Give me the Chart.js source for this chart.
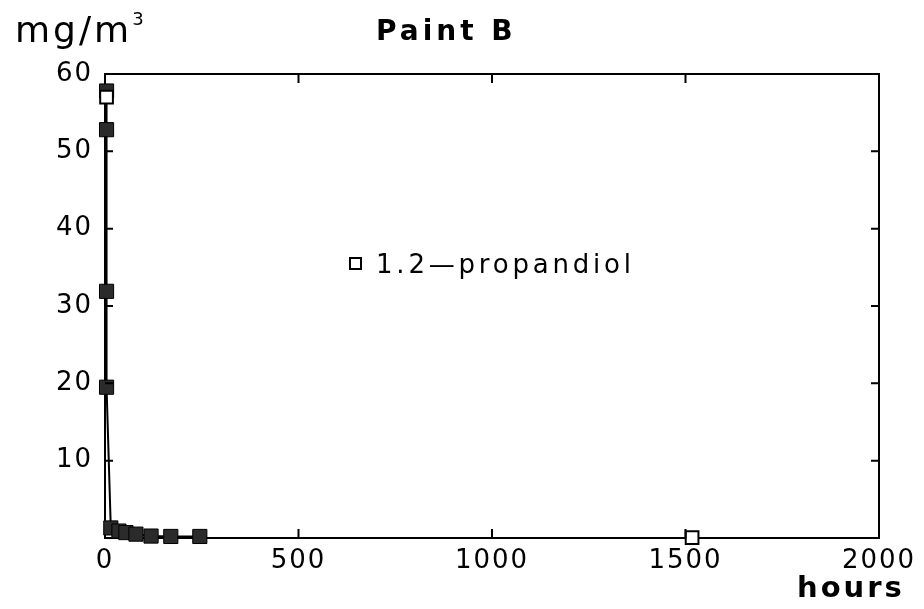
<!DOCTYPE html>
<html>
<head>
<meta charset="utf-8">
<title>Paint B</title>
<script src="https://cdn.jsdelivr.net/npm/chart.js@4.4.1/dist/chart.umd.min.js"></script>
<style>
  body { margin: 0; background: #fff; }
  #wrap { position: relative; width: 924px; height: 609px; }
  .lbl { position: absolute; font-family: "DejaVu Sans", sans-serif; color: #000; white-space: nowrap; }
  #ylab { left: 15px; top: 9px; font-size: 36px; letter-spacing: 3px; }
  #ylab sup { font-size: 18px; letter-spacing: 0; position: relative; top: -4px; }
  #title { left: 376px; top: 14px; font-size: 28px; font-weight: bold; letter-spacing: 4px; }
  #xlab { left: 797px; top: 570px; font-size: 29px; font-weight: bold; letter-spacing: 3px; }
  #legend { left: 349px; top: 249px; font-size: 26px; letter-spacing: 3.8px; }
  #legend .box { display: inline-block; width: 9px; height: 9px; border: 2px solid #000; margin-right: 14px; vertical-align: 3px; }
</style>
</head>
<body>
<div id="wrap">
  <canvas id="chart" width="924" height="609"></canvas>
  <div class="lbl" id="ylab">mg/m<sup>3</sup></div>
  <div class="lbl" id="title">Paint B</div>
  <div class="lbl" id="xlab">hours</div>
  <div class="lbl" id="legend"><span class="box"></span>1.2—propandiol</div>
</div>
<script>
// data (hours, mg/m3)
const seriesName = '1.2-propandiol';
const fillHours = [4, 4, 4, 4, 15, 36, 54, 80, 119, 170, 245];
const fillValues = [57.8, 52.8, 31.9, 19.5, 1.3, 0.9, 0.7, 0.5, 0.25, 0.2, 0.2];
const openHours = [4, 1517];
const openValues = [57.0, 0.05];
const xTicks = [0, 500, 1000, 1500, 2000];
const yTicks = [10, 20, 30, 40, 50, 60];

const toPoints = (xs, ys) => xs.map((x, i) => ({ x: x, y: ys[i] }));

// frame with inward tick marks, like the original plot
const framePlugin = {
    id: 'frame',
    beforeDraw(chart) {
        chart.ctx.letterSpacing = '2px';
    },
    beforeDatasetsDraw(chart) {
        const ctx = chart.ctx;
        const a = chart.chartArea;
        ctx.save();
        ctx.strokeStyle = '#000';
        ctx.lineWidth = 2;
        ctx.strokeRect(a.left, a.top, a.right - a.left, a.bottom - a.top);
        ctx.restore();
    },
    afterDatasetsDraw(chart) {
        const ctx = chart.ctx;
        const a = chart.chartArea;
        const xs = chart.scales.x, ys = chart.scales.y;
        ctx.save();
        ctx.strokeStyle = '#000';
        ctx.lineWidth = 2;
        ctx.beginPath();
        xTicks.slice(1, -1).forEach(v => {
            const px = xs.getPixelForValue(v);
            ctx.moveTo(px, a.bottom); ctx.lineTo(px, a.bottom - 9);
            ctx.moveTo(px, a.top); ctx.lineTo(px, a.top + 9);
        });
        yTicks.slice(0, -1).forEach(v => {
            const py = ys.getPixelForValue(v);
            ctx.moveTo(a.left, py); ctx.lineTo(a.left + 8, py);
            ctx.moveTo(a.right, py); ctx.lineTo(a.right - 8, py);
        });
        ctx.stroke();
        ctx.restore();
    }
};

new Chart(document.getElementById('chart'), {
    type: 'scatter',
    data: {
        datasets: [{
            label: seriesName,
            data: toPoints(openHours, openValues),
            showLine: false,
            clip: false,
            pointStyle: 'rect',
            pointRadius: 9,
            pointBackgroundColor: '#fff',
            pointBorderColor: '#000',
            pointBorderWidth: 2,
            order: 0
        }, {
            label: 'measured',
            data: toPoints(fillHours, fillValues),
            showLine: true,
            clip: false,
            borderColor: '#000',
            borderWidth: 2,
            pointStyle: 'rect',
            pointRadius: 10,
            pointBackgroundColor: '#2b2b2b',
            pointBorderColor: '#000',
            pointBorderWidth: 1,
            order: 1
        }]
    },
    options: {
        responsive: false,
        animation: false,
        layout: { padding: { top: 74, right: 45, left: 0, bottom: 0 } },
        plugins: { legend: { display: false }, tooltip: { enabled: false } },
        scales: {
            x: {
                type: 'linear',
                min: 0, max: 2000,
                afterFit(scale) { scale.height = 71; },
                afterBuildTicks(scale) { scale.ticks = xTicks.map(v => ({ value: v })); },
                grid: { display: false, drawTicks: false },
                border: { display: false },
                ticks: {
                    padding: 8, color: '#000',
                    font: { family: 'DejaVu Sans', size: 26 },
                    callback: v => String(v)
                }
            },
            y: {
                type: 'linear',
                min: 0, max: 60,
                afterFit(scale) { scale.width = 105; },
                afterBuildTicks(scale) { scale.ticks = yTicks.map(v => ({ value: v })); },
                grid: { display: false, drawTicks: false },
                border: { display: false },
                ticks: {
                    padding: 12, color: '#000',
                    font: { family: 'DejaVu Sans', size: 26 },
                    callback: v => String(v)
                }
            }
        }
    },
    plugins: [framePlugin]
});
</script>
</body>
</html>
